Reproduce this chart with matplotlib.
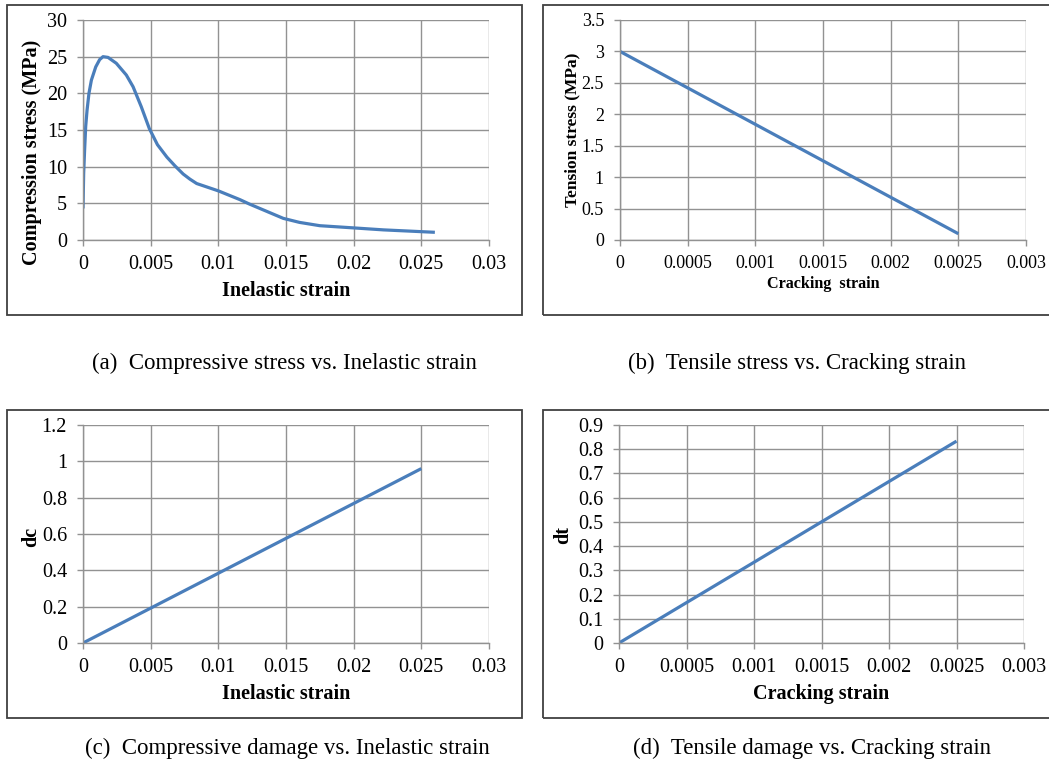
import matplotlib
matplotlib.use("Agg")
import matplotlib.pyplot as plt
from matplotlib.patches import Rectangle

W, H = 1049, 765
DPI = 100

# ---------------- data ----------------
comp_strain = [0, 0.00005, 0.00012, 0.0002, 0.0003, 0.00044, 0.00062, 0.00094,
               0.00123, 0.00148, 0.00185, 0.00246, 0.0032, 0.0037, 0.0043, 0.0049,
               0.0055, 0.0062, 0.0068, 0.0074, 0.0079, 0.0084, 0.0100, 0.0116,
               0.0123, 0.0148, 0.016, 0.0175, 0.020, 0.0222, 0.026]
comp_stress = [4.3, 9.1, 12.3, 15.5, 17.7, 20.0, 21.8, 23.6,
               24.6, 25.0, 24.9, 24.1, 22.5, 20.9, 18.2, 15.2,
               13.0, 11.3, 10.1, 9.0, 8.3, 7.7, 6.7, 5.5,
               4.9, 2.95, 2.4, 1.95, 1.65, 1.38, 1.05]

crack_strain = [0, 0.0005, 0.001, 0.0015, 0.002, 0.0025]
tens_stress = [3.0, 2.42, 1.84, 1.26, 0.68, 0.1]

inel_strain_d = [0, 0.005, 0.01, 0.015, 0.02, 0.025]
dc_values = [0, 0.192, 0.384, 0.576, 0.768, 0.96]

crack_strain_d = [0, 0.0005, 0.001, 0.0015, 0.002, 0.0025]
dt_values = [0, 0.1667, 0.3333, 0.5, 0.6667, 0.8333]

xt_a = [0, 0.005, 0.01, 0.015, 0.02, 0.025, 0.03]
xl_a = ["0", "0.005", "0.01", "0.015", "0.02", "0.025", "0.03"]
yt_a = [0, 5, 10, 15, 20, 25, 30]
yl_a = ["0", "5", "10", "15", "20", "25", "30"]

xt_b = [0, 0.0005, 0.001, 0.0015, 0.002, 0.0025, 0.003]
xl_b = ["0", "0.0005", "0.001", "0.0015", "0.002", "0.0025", "0.003"]
yt_b = [0, 0.5, 1, 1.5, 2, 2.5, 3, 3.5]
yl_b = ["0", "0.5", "1", "1.5", "2", "2.5", "3", "3.5"]

yt_c = [0, 0.2, 0.4, 0.6, 0.8, 1.0, 1.2]
yl_c = ["0", "0.2", "0.4", "0.6", "0.8", "1", "1.2"]

yt_d = [0, 0.1, 0.2, 0.3, 0.4, 0.5, 0.6, 0.7, 0.8, 0.9]
yl_d = ["0", "0.1", "0.2", "0.3", "0.4", "0.5", "0.6", "0.7", "0.8", "0.9"]

captions = ["(a)  Compressive stress vs. Inelastic strain",
            "(b)  Tensile stress vs. Cracking strain",
            "(c)  Compressive damage vs. Inelastic strain",
            "(d)  Tensile damage vs. Cracking strain"]

# ---------------- style ----------------
plt.rcParams['font.family'] = ['Liberation Serif', 'DejaVu Serif']
LINE = '#4A7EBB'
GRID = '#929292'
BOX = '#404040'

fig = plt.figure(figsize=(W / DPI, H / DPI), dpi=DPI)
fig.patch.set_facecolor('white')


def px_axes(x0, y0, x1, y1):
    return fig.add_axes([x0 / W, 1 - y1 / H, (x1 - x0) / W, (y1 - y0) / H])


def box(x0, y0, x1, y1):
    r = Rectangle((x0 / W, 1 - y1 / H), (x1 - x0) / W, (y1 - y0) / H,
                  transform=fig.transFigure, fill=False, edgecolor=BOX,
                  linewidth=1.3, zorder=0)
    fig.add_artist(r)


def style(ax, rect, xt, xl, yt, yl, xlim, ylim, xlabel, ylabel, tfs, lfs,
          xlab_y, ylab_xy):
    x0, y0, x1, y1 = rect
    ax.set_xlim(*xlim)
    ax.set_ylim(*ylim)
    ax.set_xticks(xt)
    ax.set_xticklabels(xl)
    ax.set_yticks(yt)
    ax.set_yticklabels(yl)
    ax.grid(True, color=GRID, linewidth=1.0)
    ax.set_axisbelow(True)
    for s in ['top', 'right']:
        ax.spines[s].set_visible(False)
    for s in ['left', 'bottom']:
        ax.spines[s].set_color(GRID)
        ax.spines[s].set_linewidth(1.0)
    ax.tick_params(axis='both', direction='out', length=4.5, width=1.0,
                   color=GRID, labelsize=tfs, labelcolor='black')
    ax.tick_params(axis='x', pad=6)
    ax.tick_params(axis='y', pad=7)
    ax.set_xlabel(xlabel, fontsize=lfs[0], fontweight='bold', va='center')
    ax.set_ylabel(ylabel, fontsize=lfs[1], fontweight='bold', va='center')
    ax.xaxis.set_label_coords(0.5, (y1 - xlab_y) / (y1 - y0))
    lx, ly = ylab_xy
    ax.yaxis.set_label_coords((lx - x0) / (x1 - x0), (y1 - ly) / (y1 - y0))
    ax.set_facecolor('white')


# boxes
box(7, 5, 522, 315)
box(543, 5, 1060, 315)
box(7, 410, 522, 718)
box(543, 410, 1060, 718)

# (a)
ra = (83, 20, 489, 240)
ax = px_axes(*ra)
ax.plot(comp_strain, comp_stress, color=LINE, linewidth=2.3,
        solid_capstyle='butt', solid_joinstyle='round')
style(ax, ra, xt_a, xl_a, yt_a, yl_a, (0, 0.03), (0, 30), "Inelastic strain",
      "Compression stress (MPa)", 14.5, (14.5, 14.5), 291, (32, 152))

# (b)
rb = (620, 20, 1026, 240)
ax = px_axes(*rb)
ax.plot(crack_strain, tens_stress, color=LINE, linewidth=2.3, solid_capstyle='butt')
style(ax, rb, xt_b, xl_b, yt_b, yl_b, (0, 0.003), (0, 3.5), "Cracking  strain",
      "Tension stress (MPa)", 13, (11.6, 12.5), 284, (572, 130))

# (c)
rc = (83, 425, 489, 643)
ax = px_axes(*rc)
ax.plot(inel_strain_d, dc_values, color=LINE, linewidth=2.3, solid_capstyle='butt')
style(ax, rc, xt_a, xl_a, yt_c, yl_c, (0, 0.03), (0, 1.2), "Inelastic strain",
      "dc", 14.5, (14.5, 14.5), 694, (31, 537))

# (d)
rd = (619, 425, 1024, 643)
ax = px_axes(*rd)
ax.plot(crack_strain_d, dt_values, color=LINE, linewidth=2.3, solid_capstyle='butt')
style(ax, rd, xt_b, xl_b, yt_d, yl_d, (0, 0.003), (0, 0.9), "Cracking strain",
      "dt", 14.5, (14.5, 14.5), 694, (563, 535))

# captions
cap_pos = [(284, 363), (797, 363), (287, 748), (812, 748)]
for txt, (cx, cy) in zip(captions, cap_pos):
    fig.text(cx / W, 1 - cy / H, txt, ha='center', va='center', fontsize=16.5,
             color='black')

fig.savefig("out.png", dpi=DPI)
